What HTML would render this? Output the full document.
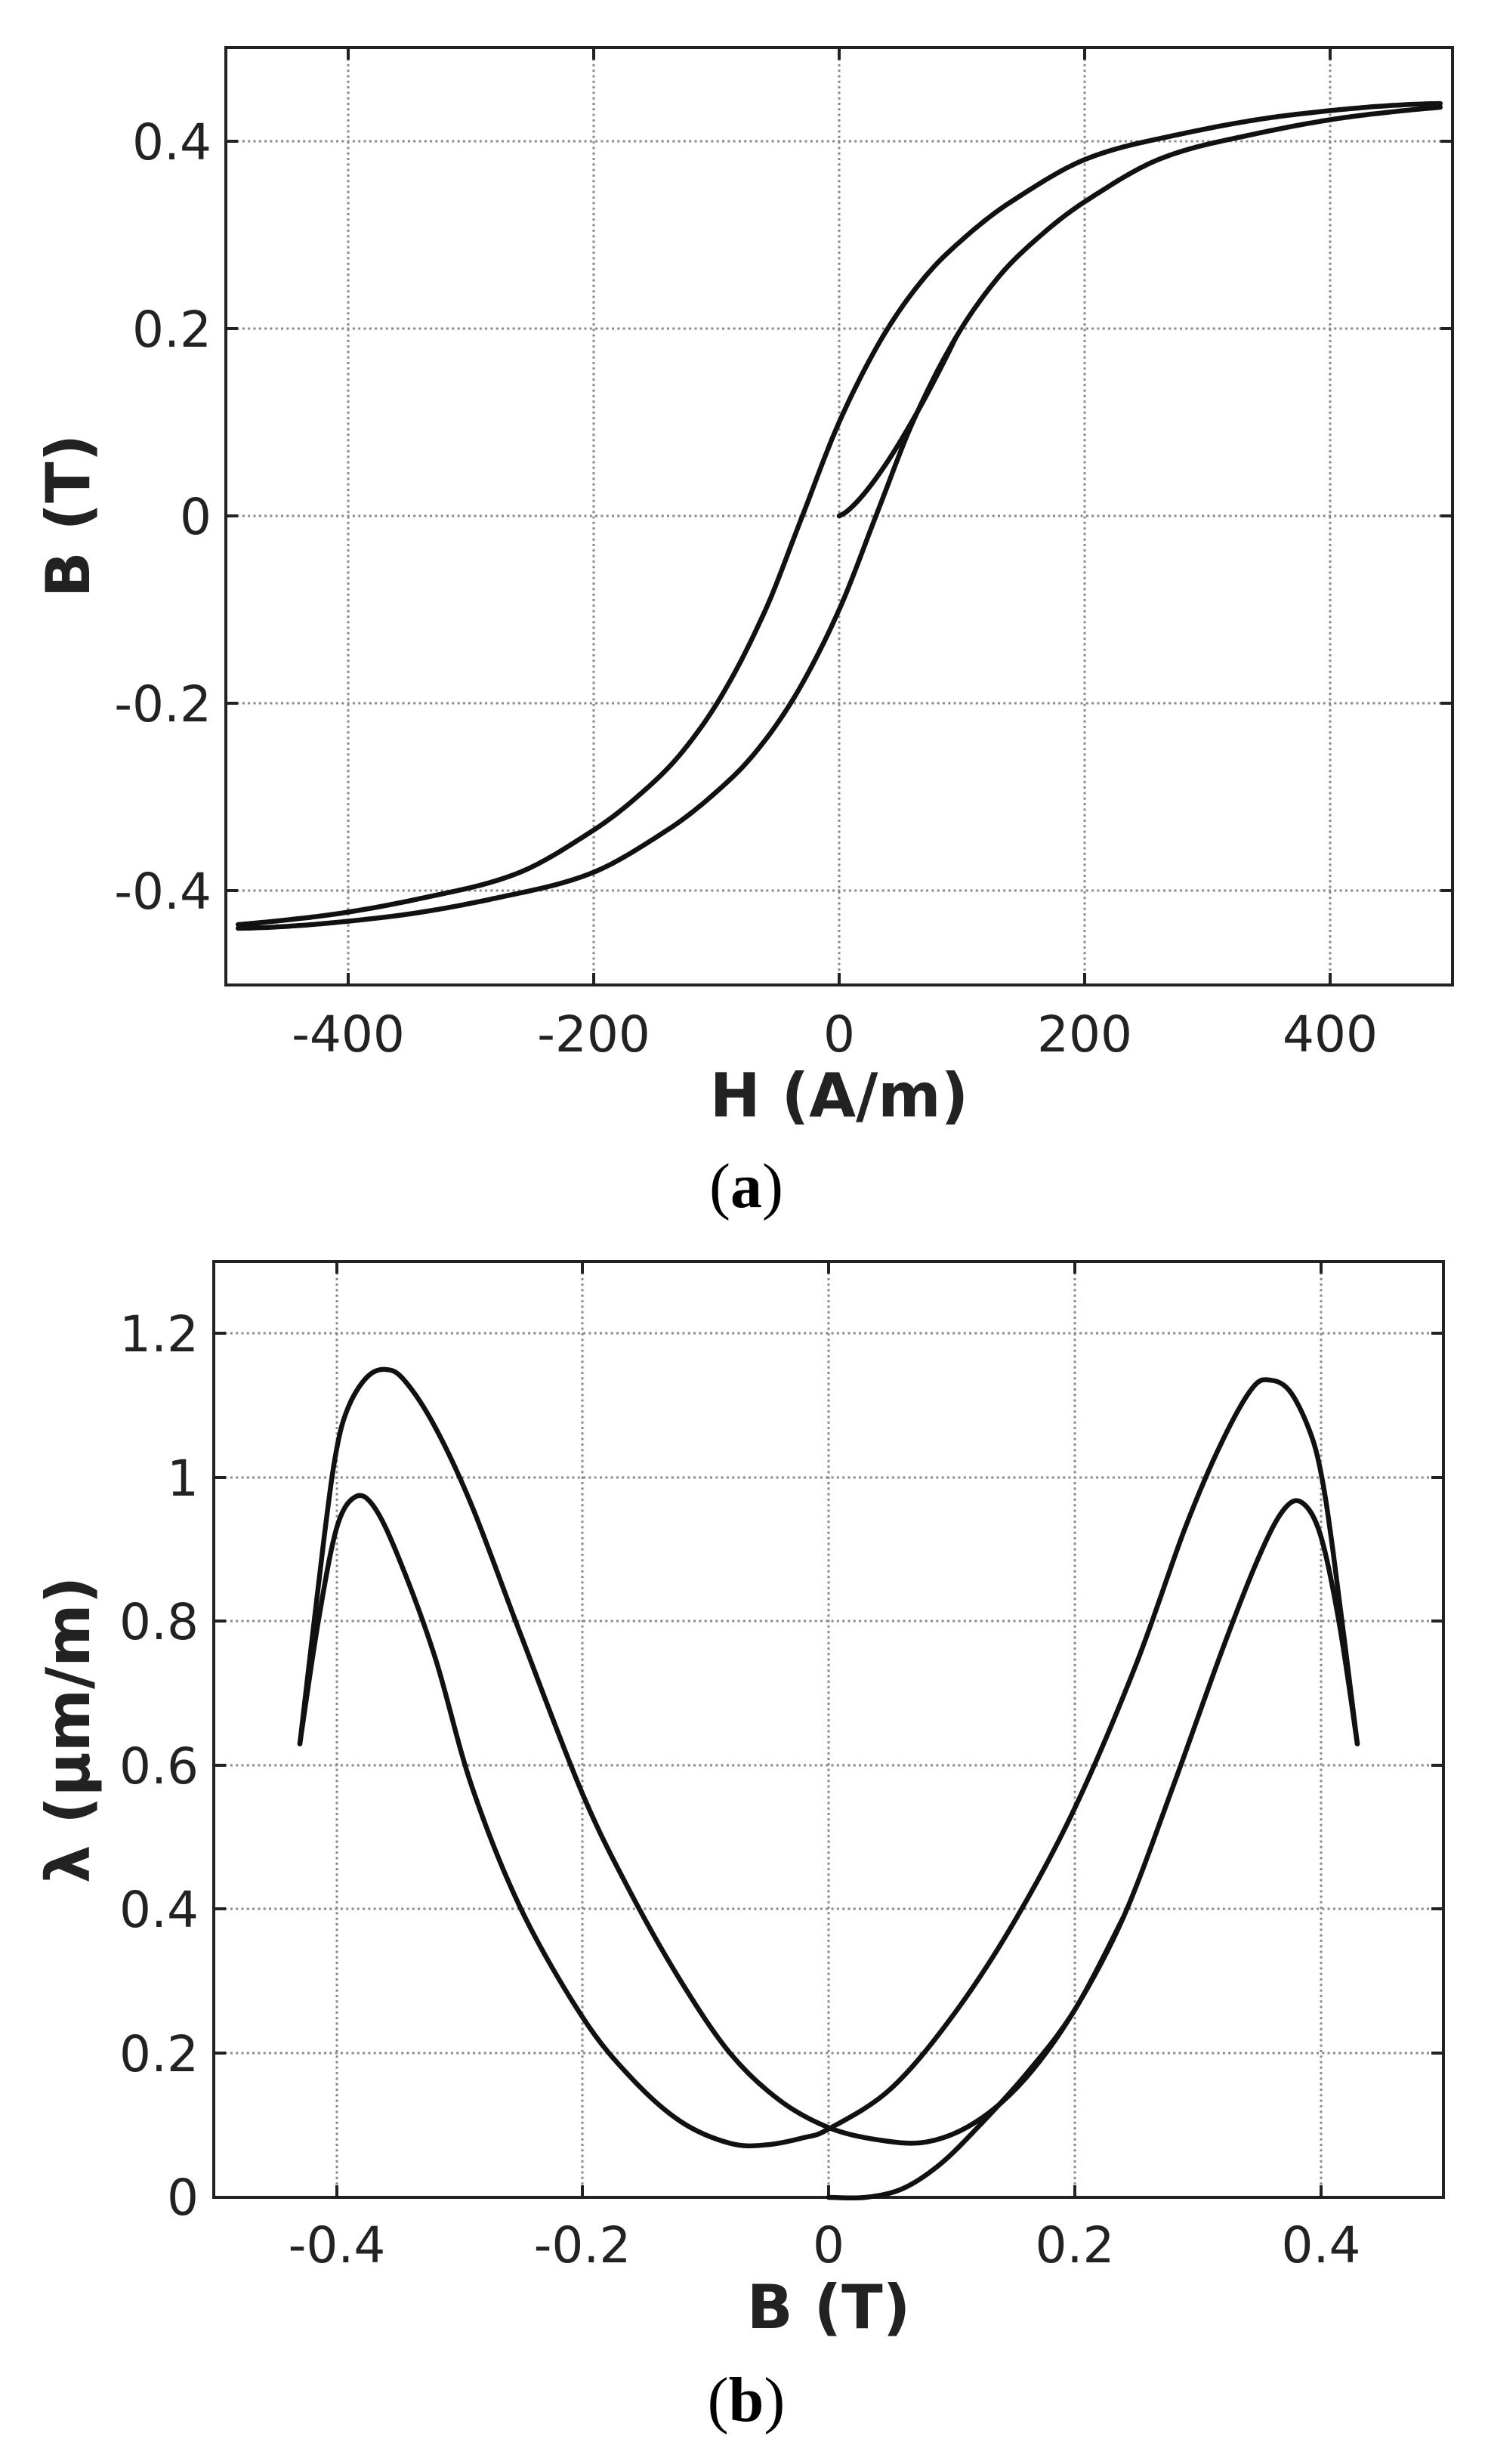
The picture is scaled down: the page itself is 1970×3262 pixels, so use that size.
<!DOCTYPE html>
<html><head><meta charset="utf-8">
<style>
html,body{margin:0;padding:0;background:#fff;}
svg{display:block;}
.tk{font-family:"DejaVu Sans","Liberation Sans",sans-serif;font-size:66px;fill:#222;}
.al{font-family:"DejaVu Sans","Liberation Sans",sans-serif;font-size:80px;font-weight:bold;fill:#222;}
.cap{font-family:"Liberation Serif",serif;font-size:84px;fill:#000;}
.grid{stroke:#888;stroke-width:3;stroke-dasharray:3 4.3;fill:none;}
.box{stroke:#222;stroke-width:4;fill:none;}
.tick{stroke:#222;stroke-width:4;}
.crv{stroke:#111;stroke-width:6.5;fill:none;stroke-linejoin:round;stroke-linecap:round;}
</style></head>
<body>
<svg id="s" width="1970" height="3262" viewBox="0 0 1970 3262" xmlns="http://www.w3.org/2000/svg">
<g id="ga"></g>
<g id="gb"></g>
<g class="tk" text-anchor="end">
<text x="280" y="211">0.4</text>
<text x="280" y="459">0.2</text>
<text x="280" y="707">0</text>
<text x="280" y="955">-0.2</text>
<text x="280" y="1203">-0.4</text>
</g>
<g class="tk" text-anchor="middle">
<text x="461" y="1392">-400</text>
<text x="786" y="1392">-200</text>
<text x="1111" y="1392">0</text>
<text x="1436" y="1392">200</text>
<text x="1761" y="1392">400</text>
</g>
<text class="al" x="1111" y="1478" text-anchor="middle">H (A/m)</text>
<text class="al" transform="translate(118,683) rotate(-90)" text-anchor="middle">B (T)</text>
<text class="cap" x="988" y="1598" text-anchor="middle">(<tspan font-weight="bold">a</tspan>)</text>
<g class="tk" text-anchor="end">
<text x="263" y="1789">1.2</text>
<text x="263" y="1980">1</text>
<text x="263" y="2170">0.8</text>
<text x="263" y="2361">0.6</text>
<text x="263" y="2551">0.4</text>
<text x="263" y="2742">0.2</text>
<text x="263" y="2932">0</text>
</g>
<g class="tk" text-anchor="middle">
<text x="446" y="2995">-0.4</text>
<text x="771" y="2995">-0.2</text>
<text x="1097" y="2995">0</text>
<text x="1423" y="2995">0.2</text>
<text x="1749" y="2995">0.4</text>
</g>
<text class="al" x="1097" y="3082" text-anchor="middle">B (T)</text>
<text class="al" transform="translate(118,2290) rotate(-90)" text-anchor="middle">λ (μm/m)</text>
<text class="cap" x="988" y="3205" text-anchor="middle">(<tspan font-weight="bold">b</tspan>)</text>
</svg>
<script>
var NS="http://www.w3.org/2000/svg";
function el(p,t,a){var e=document.createElementNS(NS,t);for(var k in a)e.setAttribute(k,a[k]);p.appendChild(e);return e;}
function cr(pts){var d="M"+pts[0][0].toFixed(1)+","+pts[0][1].toFixed(1);
for(var i=0;i<pts.length-1;i++){var p0=pts[i-1]||pts[i],p1=pts[i],p2=pts[i+1],p3=pts[i+2]||p2;
var c1=[p1[0]+(p2[0]-p0[0])/6,p1[1]+(p2[1]-p0[1])/6],c2=[p2[0]-(p3[0]-p1[0])/6,p2[1]-(p3[1]-p1[1])/6];
d+="C"+c1[0].toFixed(1)+","+c1[1].toFixed(1)+" "+c2[0].toFixed(1)+","+c2[1].toFixed(1)+" "+p2[0].toFixed(1)+","+p2[1].toFixed(1);}
return d;}
function axes(g,L,T,R,B,xt,yt){
 xt.forEach(function(x){el(g,"line",{x1:x,y1:T,x2:x,y2:B,"class":"grid"});el(g,"line",{x1:x,y1:B,x2:x,y2:B-16,"class":"tick"});el(g,"line",{x1:x,y1:T,x2:x,y2:T+16,"class":"tick"});});
 yt.forEach(function(y){el(g,"line",{x1:L,y1:y,x2:R,y2:y,"class":"grid"});el(g,"line",{x1:L,y1:y,x2:L+16,y2:y,"class":"tick"});el(g,"line",{x1:R,y1:y,x2:R-16,y2:y,"class":"tick"});});
 el(g,"rect",{x:L,y:T,width:R-L,height:B-T,"class":"box"});}
var ga=document.getElementById("ga");
var aL=299,aR=1923,aT=63,aB=1304;
axes(ga,aL,aT,aR,aB,[461,786,1111,1436,1761],[187,435,683,931,1179]);
function ax(h){return 1111+h*(aR-aL)/1000;} function ay(b){return 683-b*(aB-aT)/1.0;}
var F=[[0,0],[30,0.1],[65,0.19],[100,0.255],[135,0.30],[170,0.335],[230,0.38],[300,0.405],[400,0.428],[530,0.44]];
function f(x){var s=x<0?-1:1;x=Math.abs(x);for(var i=0;i<F.length-1;i++){if(x<=F[i+1][0]){var t=(x-F[i][0])/(F[i+1][0]-F[i][0]);
var m0=i>0?(F[i+1][1]-F[i-1][1])/(F[i+1][0]-F[i-1][0]):(F[1][1]-F[0][1])/(F[1][0]-F[0][0])*1.0;
var m1=i<F.length-2?(F[i+2][1]-F[i][1])/(F[i+2][0]-F[i][0]):0;var h=F[i+1][0]-F[i][0];
var t2=t*t,t3=t2*t;return s*((2*t3-3*t2+1)*F[i][1]+(t3-2*t2+t)*h*m0+(-2*t3+3*t2)*F[i+1][1]+(t3-t2)*h*m1);}}return s*0.44;}
var Hc=30,up=[],lo=[],ini=[];
for(var h=490;h>=-490;h-=5)up.push([ax(h),ay(f(h+Hc))]);
for(var h=-490;h<=490;h+=5)lo.push([ax(h),ay(f(h-Hc))]);
for(var h=0;h<=95;h+=5)ini.push([ax(h),ay(f(95-Hc)*Math.pow(h/95,1.35))]);
el(ga,"path",{d:cr(up),"class":"crv"});el(ga,"path",{d:cr(lo),"class":"crv"});el(ga,"path",{d:cr(ini),"class":"crv"});
var gb=document.getElementById("gb");
var bL=283,bR=1911,bT=1670,bB=2909;
axes(gb,bL,bT,bR,bB,[446,771,1097,1423,1749],[1765,1956,2146,2337,2527,2718]);
function bx(v){return 1097+v*(bR-bL);} function by(v){return 2909-v*(bB-bT)/1.3;}
function P(a){return a.map(function(p){return [bx(p[0]),by(p[1])];});}
var cL=[[0.43,0.63],[0.415,0.80],[0.40,0.92],[0.385,0.965],[0.37,0.955],[0.35,0.89],[0.32,0.76],[0.28,0.57],[0.24,0.39],[0.2,0.26],[0.16,0.165],[0.12,0.105],[0.08,0.077],[0.04,0.08],[0.0,0.097],[-0.04,0.135],[-0.08,0.2],[-0.12,0.3],[-0.16,0.42],[-0.2,0.56],[-0.25,0.78],[-0.29,0.96],[-0.32,1.07],[-0.345,1.135],[-0.36,1.15],[-0.375,1.14],[-0.39,1.10],[-0.40,1.04],[-0.41,0.92],[-0.43,0.63]];
var cR=[[-0.43,0.63],[-0.415,0.80],[-0.40,0.93],[-0.385,0.973],[-0.37,0.96],[-0.35,0.89],[-0.32,0.75],[-0.29,0.57],[-0.25,0.40],[-0.2,0.25],[-0.16,0.165],[-0.12,0.105],[-0.08,0.075],[-0.05,0.073],[-0.02,0.083],[0,0.095],[0.05,0.15],[0.1,0.25],[0.15,0.38],[0.2,0.54],[0.25,0.74],[0.29,0.93],[0.32,1.05],[0.345,1.125],[0.36,1.135],[0.375,1.12],[0.39,1.07],[0.40,1.01],[0.41,0.90],[0.43,0.63]];
var cI=[[0,0],[0.03,0.0],[0.06,0.012],[0.09,0.045],[0.12,0.095],[0.16,0.17],[0.2,0.26],[0.24,0.39]];
el(gb,"path",{d:cr(P(cL)),"class":"crv"});el(gb,"path",{d:cr(P(cR)),"class":"crv"});el(gb,"path",{d:cr(P(cI)),"class":"crv"});
</script>
</body></html>
